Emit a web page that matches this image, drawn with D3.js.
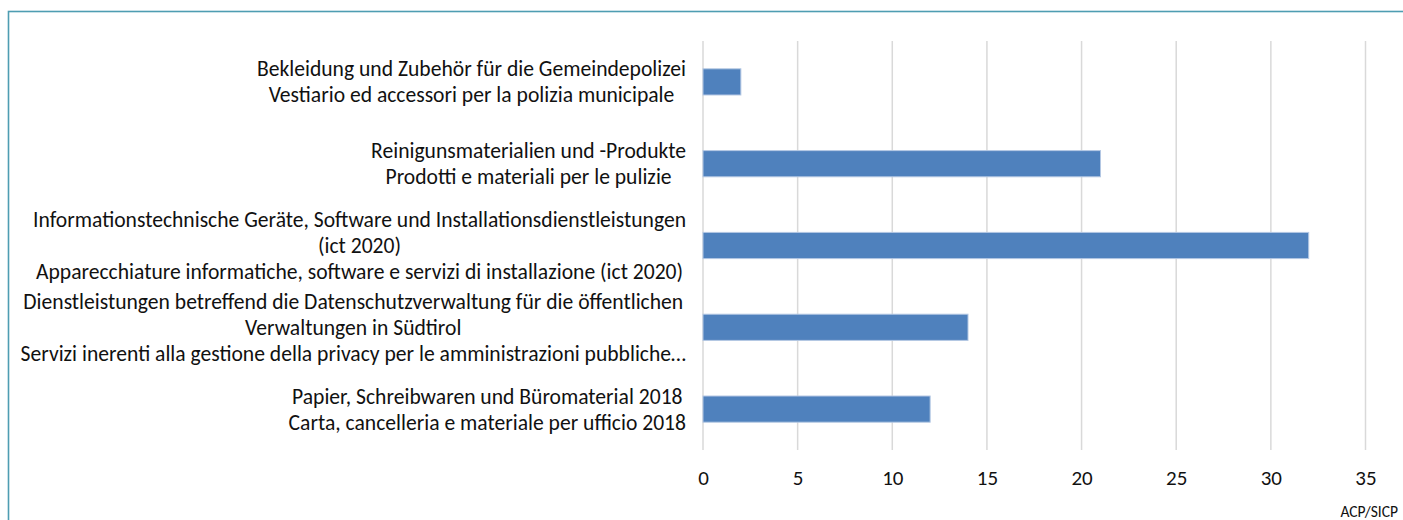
<!DOCTYPE html>
<html>
<head>
<meta charset="utf-8">
<script src="https://cdn.jsdelivr.net/npm/d3@7"></script>
<style>
  body { margin: 0; background: #fff; }
  svg { display: block; }
</style>
</head>
<body>
<script>
// categories: each is a list of lines (German wraps, then Italian)
const categories = [
  ["Bekleidung und Zubehör für die Gemeindepolizei", "Vestiario ed accessori per la polizia municipale"],
  ["Reinigunsmaterialien und -Produkte", "Prodotti e materiali per le pulizie"],
  ["Informationstechnische Geräte, Software und Installationsdienstleistungen", "(ict 2020)", "Apparecchiature informatiche, software e servizi di installazione (ict 2020)"],
  ["Dienstleistungen betreffend die Datenschutzverwaltung für die öffentlichen", "Verwaltungen in Südtirol", "Servizi inerenti alla gestione della privacy per le amministrazioni pubbliche…"],
  ["Papier, Schreibwaren und Büromaterial 2018", "Carta, cancelleria e materiale per ufficio 2018"]
]
const values = [2, 21, 32, 14, 12]
const xTicks = [0, 5, 10, 15, 20, 25, 30, 35]
const sourceNote = "ACP/SICP"

const W = 1403, H = 520
const font = "Calibri, Carlito, Lato, 'Liberation Sans', sans-serif"

let svg = d3.select("body").append("svg")
  .attr("width", W)
  .attr("height", H)

// frame of the chart area (runs off the right and bottom edge)
svg.append("rect")
  .attr("x", 8.5).attr("y", 11.5)
  .attr("width", W + 20).attr("height", H + 20)
  .attr("fill", "none")
  .attr("stroke", "#4e9db2")
  .attr("stroke-width", 1.6)

let x = d3.scaleLinear()
  .domain([0, 35])
  .range([703, 1365.5])

let y = d3.scaleBand()
  .domain(d3.range(categories.length))
  .range([41, 450])
  .paddingInner(0.68)
  .paddingOuter(0.34)

// grid lines
svg.append("g")
  .selectAll("line")
  .data(xTicks)
  .enter()
  .append("line")
  .attr("x1", d => x(d)).attr("x2", d => x(d))
  .attr("y1", 41).attr("y2", 450)
  .attr("stroke", "#d9d9d9")
  .attr("stroke-width", 1.5)

// tick labels
let xAxis = svg.append("g")
  .attr("transform", "translate(0,450)")
  .call(d3.axisBottom(x).tickValues(xTicks).tickSize(0).tickPadding(20))
xAxis.select(".domain").remove()
xAxis.selectAll("text")
  .attr("font-family", font)
  .attr("font-size", 21)
  .attr("fill", "#111")

// bars
svg.append("g")
  .selectAll("rect")
  .data(values)
  .enter()
  .append("rect")
  .attr("x", x(0))
  .attr("y", (d, i) => y(i))
  .attr("width", d => x(d) - x(0))
  .attr("height", y.bandwidth())
  .attr("fill", "#4f81bd")
  .attr("stroke", "#b3c7e3")
  .attr("stroke-width", 1)

// category labels: lines centred on each other, block right-aligned to axis
const lineH = 26
const rightEdge = 686
categories.forEach((lines, i) => {
  let g = svg.append("g")
  let cy = y(i) + y.bandwidth() / 2
  let t = g.selectAll("text")
    .data(lines)
    .enter()
    .append("text")
    .attr("y", (d, j) => cy + (j - (lines.length - 1) / 2) * lineH)
    .attr("dy", "0.35em")
    .attr("text-anchor", "middle")
    .attr("font-family", font)
    .attr("font-size", 21.6)
    .attr("fill", "#111")
    .text(d => d)
  let maxW = d3.max(t.nodes(), n => n.getComputedTextLength())
  t.attr("x", rightEdge - maxW / 2)
})

svg.append("text")
  .attr("x", 1398)
  .attr("y", 512)
  .attr("dy", "0.35em")
  .attr("text-anchor", "end")
  .attr("font-family", font)
  .attr("font-size", 15.5)
  .attr("fill", "#111")
  .text(sourceNote)
</script>
</body>
</html>
